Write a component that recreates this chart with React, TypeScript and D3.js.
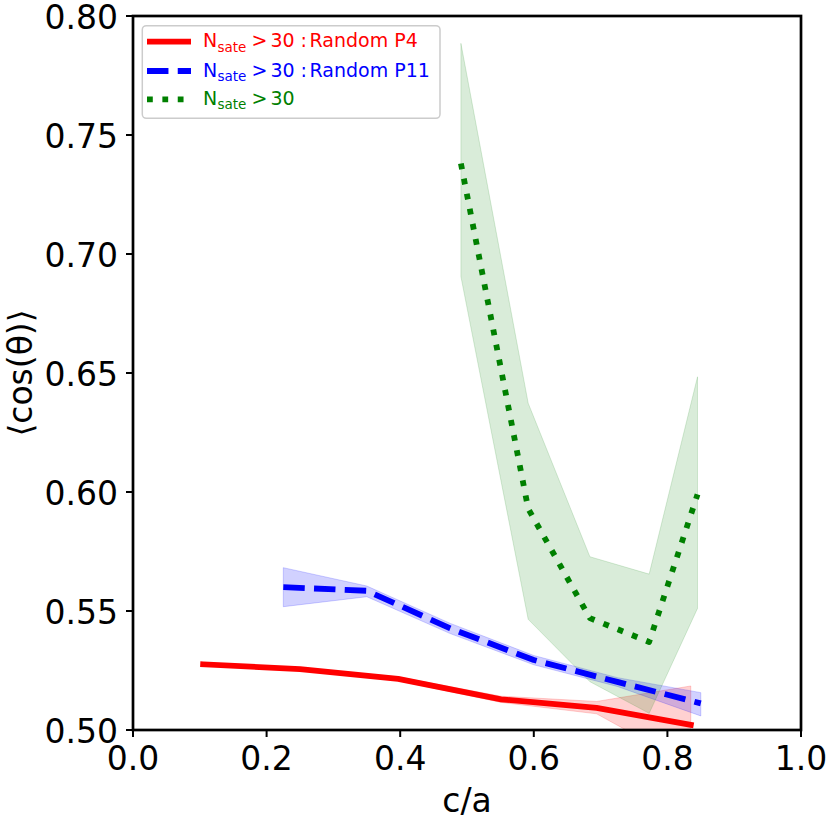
import React from "react";
import * as d3 from "d3";

// ---- data ----
const redX = [0.105, 0.25, 0.397, 0.551, 0.694, 0.835];
const redY = [0.5276, 0.5256, 0.5215, 0.5129, 0.5093, 0.5022];
const redLow = [0.527, 0.525, 0.5207, 0.5116, 0.5068, 0.485];
const redHigh = [0.5282, 0.5262, 0.5223, 0.5142, 0.512, 0.5185];

const blueX = [0.225, 0.35, 0.475, 0.6, 0.725, 0.85];
const blueY = [0.56, 0.5585, 0.5427, 0.5294, 0.5202, 0.5112];
const blueLow = [0.5518, 0.556, 0.5405, 0.5274, 0.5183, 0.5059];
const blueHigh = [0.5682, 0.5605, 0.5448, 0.5313, 0.522, 0.5157];

const greenX = [0.4909, 0.5916, 0.684, 0.7727, 0.8451];
const greenY = [0.738, 0.593, 0.547, 0.537, 0.599];
const greenLow = [0.6905, 0.5465, 0.5203, 0.507, 0.5511];
const greenHigh = [0.7885, 0.6373, 0.5728, 0.5655, 0.6484];

const xTicks = [0.0, 0.2, 0.4, 0.6, 0.8, 1.0];
const yTicks = [0.5, 0.55, 0.6, 0.65, 0.7, 0.75, 0.8];

const FONT = "'DejaVu Sans', sans-serif";

export default function App() {
  const left = 133, right = 801, top = 16, bottom = 730;
  const x = d3.scaleLinear().domain([0, 1]).range([left, right]);
  const y = d3.scaleLinear().domain([0.5, 0.8]).range([bottom, top]);

  type P = { x: number; y: number; lo: number; hi: number };
  const mk = (xs: number[], ys: number[], lo: number[], hi: number[]): P[] =>
    xs.map((v, i) => ({ x: v, y: ys[i], lo: lo[i], hi: hi[i] }));
  const red = mk(redX, redY, redLow, redHigh);
  const blue = mk(blueX, blueY, blueLow, blueHigh);
  const green = mk(greenX, greenY, greenLow, greenHigh);

  const line = d3.line<P>().x((d) => x(d.x)).y((d) => y(d.y));
  const area = d3
    .area<P>()
    .x((d) => x(d.x))
    .y0((d) => y(d.lo))
    .y1((d) => y(d.hi));

  const lw = 5.8;

  const legendRows = [
    { color: "#ff0000", dash: undefined as string | undefined, tail: "Random P4", base: 47.3, ly: 41.7 },
    { color: "#0000ff", dash: `${3.7 * lw} ${1.6 * lw}`, tail: "Random P11", base: 76.7, ly: 71 },
    { color: "#008000", dash: `${lw} ${1.65 * lw}`, tail: "", base: 105, ly: 99.3 },
  ];

  return (
    <svg
      width={830}
      height={830}
      style={{ position: "absolute", left: 0, top: 0, background: "#fff" }}
      fontFamily={FONT}
    >
      <defs>
        <clipPath id="plot">
          <rect x={left} y={top} width={right - left} height={bottom - top} />
        </clipPath>
      </defs>
      <rect x={0} y={0} width={830} height={830} fill="#fff" />
      <g clipPath="url(#plot)">
        <path d={area(red) || ""} fill="#ff0000" fillOpacity={0.18} stroke="#ff0000" strokeOpacity={0.18} strokeWidth={1} />
        <path d={area(blue) || ""} fill="#0000ff" fillOpacity={0.18} stroke="#0000ff" strokeOpacity={0.18} strokeWidth={1} />
        <path d={area(green) || ""} fill="#008000" fillOpacity={0.15} stroke="#008000" strokeOpacity={0.15} strokeWidth={1} />
        <path d={line(red) || ""} fill="none" stroke="#ff0000" strokeWidth={lw} strokeLinecap="square" strokeLinejoin="round" />
        <path d={line(blue) || ""} fill="none" stroke="#0000ff" strokeWidth={lw} strokeDasharray={`${3.7 * lw} ${1.6 * lw}`} strokeLinejoin="round" />
        <path d={line(green) || ""} fill="none" stroke="#008000" strokeWidth={lw} strokeDasharray={`${lw} ${1.65 * lw}`} strokeLinejoin="round" />
      </g>

      {/* ticks */}
      {xTicks.map((t) => (
        <g key={"x" + t}>
          <line x1={x(t)} x2={x(t)} y1={bottom} y2={bottom + 7} stroke="#000" strokeWidth={2} />
          <text x={x(t)} y={770} fontSize={33} textAnchor="middle" fill="#000">
            {t.toFixed(1)}
          </text>
        </g>
      ))}
      {yTicks.map((t) => (
        <g key={"y" + t}>
          <line x1={left - 7} x2={left} y1={y(t)} y2={y(t)} stroke="#000" strokeWidth={2} />
          <text x={118} y={y(t) + 12.5} fontSize={33} textAnchor="end" fill="#000">
            {t.toFixed(2)}
          </text>
        </g>
      ))}

      {/* spines */}
      <rect x={left} y={top} width={right - left} height={bottom - top} fill="none" stroke="#000" strokeWidth={2.7} />

      {/* axis labels */}
      <text x={(left + right) / 2} y={811.7} fontSize={33} textAnchor="middle" fill="#000">
        c/a
      </text>
      <text transform={`translate(31.7, ${(top + bottom) / 2}) rotate(-90)`} fontSize={33} textAnchor="middle" fill="#000">
        ⟨cos(θ)⟩
      </text>

      {/* legend */}
      <rect x={142.3} y={25.7} width={297.7} height={92.6} rx={4} fill="#fff" fillOpacity={0.8} stroke="#cccccc" strokeWidth={1.5} />
      {legendRows.map((r, i) => (
        <g key={"lg" + i}>
          <line x1={147} x2={191} y1={r.ly} y2={r.ly} stroke={r.color} strokeWidth={lw} strokeDasharray={r.dash} strokeLinecap="butt" />
          <text y={r.base} fontSize={19} fill={r.color}>
            <tspan x={203}>N</tspan>
            <tspan x={217.5} dy={4.3} fontSize={13.5}>sate</tspan>
            <tspan x={251.5} dy={-4.3}>{">"}</tspan>
            <tspan x={270.5}>30</tspan>
            {r.tail ? <tspan x={300.5}>:</tspan> : null}
            {r.tail ? <tspan x={309.5}>{r.tail}</tspan> : null}
          </text>
        </g>
      ))}
    </svg>
  );
}
